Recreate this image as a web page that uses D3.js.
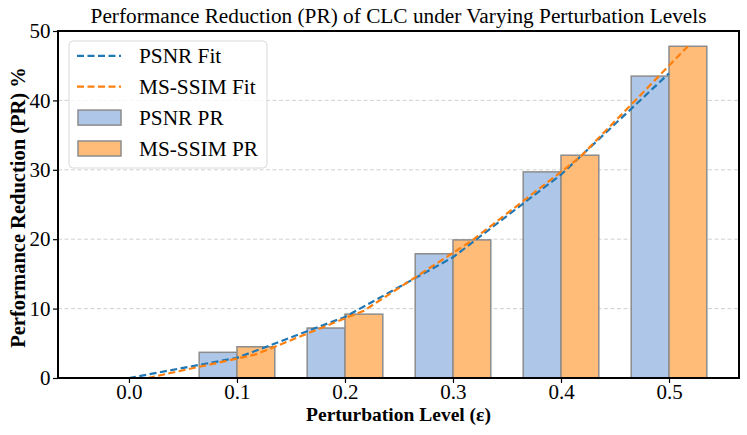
<!DOCTYPE html>
<html><head><meta charset="utf-8">
<script src="https://cdn.jsdelivr.net/npm/d3@7"></script>
<style>body{margin:0;background:#fff}svg text{font-family:"Liberation Serif","DejaVu Serif",serif}</style>
</head><body>
<svg id="c" width="747" height="435"></svg>
<script>
const levels = [0.0, 0.1, 0.2, 0.3, 0.4, 0.5];
const tickLabels = ["0.0","0.1","0.2","0.3","0.4","0.5"];
const psnrPR = [0, 3.7, 7.2, 17.9, 29.7, 43.5];
const ssimPR = [0, 4.5, 9.2, 19.9, 32.1, 47.8];
const psnrFit = [0, 2.9, 8.8, 17.4, 29.3, 43.9];
const ssimFit = [0, 3.4, 9.7, 19.8, 31.8, 47.8];
const yTicks = [0, 10, 20, 30, 40, 50];
const barW = 0.035;

const svg = d3.select("#c");
const L = 58, R = 739, T = 31, B = 378;
const x = d3.scaleLinear().domain([-0.0657, 0.5648]).range([L, R]);
const y = d3.scaleLinear().domain([0, 50]).range([B, T]);

// grid
svg.append("g").selectAll("line").data(yTicks.filter(d => d > 0 && d < 50)).join("line")
  .attr("x1", L).attr("x2", R).attr("y1", d => y(d)).attr("y2", d => y(d))
  .attr("stroke", "#cccccc").attr("stroke-width", 0.9).attr("stroke-dasharray", "4,2.5");

// bars
const bars = svg.append("g");
bars.selectAll("rect.p").data(levels).join("rect").attr("class","p")
  .attr("x", (d) => x(d - barW)).attr("width", x(barW) - x(0))
  .attr("y", (d,i) => y(psnrPR[i])).attr("height", (d,i) => B - y(psnrPR[i]))
  .attr("fill", "#aec7e8").attr("stroke", "#8c8c8c").attr("stroke-width", 1.5);
bars.selectAll("rect.s").data(levels).join("rect").attr("class","s")
  .attr("x", (d) => x(d)).attr("width", x(barW) - x(0))
  .attr("y", (d,i) => y(ssimPR[i])).attr("height", (d,i) => B - y(ssimPR[i]))
  .attr("fill", "#ffbb78").attr("stroke", "#8c8c8c").attr("stroke-width", 1.5);

// fit lines
const line = d3.line().x(d => x(d[0])).y(d => y(d[1]));
svg.append("path").datum(levels.map((d,i) => [d, psnrFit[i]]))
  .attr("d", line).attr("fill","none").attr("stroke","#1f77b4").attr("stroke-width",2.2).attr("stroke-dasharray","7,3.5");
svg.append("path").datum(levels.map((d,i) => [d + barW/2, ssimFit[i]]))
  .attr("d", line).attr("fill","none").attr("stroke","#ff7f0e").attr("stroke-width",2.2).attr("stroke-dasharray","7,3.5");

// frame
svg.append("rect").attr("x", L).attr("y", T).attr("width", R-L).attr("height", B-T)
  .attr("fill","none").attr("stroke","#000").attr("stroke-width",2);

// axes
const xa = svg.append("g").attr("transform", `translate(0,${B})`)
  .call(d3.axisBottom(x).tickValues(levels).tickFormat((d,i) => tickLabels[i]).tickSize(5).tickPadding(1.5));
const ya = svg.append("g").attr("transform", `translate(${L},0)`)
  .call(d3.axisLeft(y).tickValues(yTicks).tickFormat(d3.format("d")).tickSize(5).tickPadding(2.5));
[xa, ya].forEach(g => {
  g.select(".domain").remove();
  g.selectAll("line").attr("stroke","#000").attr("stroke-width",1.2);
  g.selectAll("text").attr("font-size", 21).attr("fill","#000").style("font-family","'Liberation Serif',serif");
});

// titles
svg.append("text").attr("x", (L+R)/2).attr("y", 23).attr("text-anchor","middle")
  .attr("font-size", 21.3).text("Performance Reduction (PR) of CLC under Varying Perturbation Levels");
svg.append("text").attr("x", (L+R)/2).attr("y", 421).attr("text-anchor","middle")
  .attr("font-size", 19.5).attr("font-weight","bold").text("Perturbation Level (ε)");
svg.append("text").attr("transform", `translate(25,${(T+B)/2 + 3}) rotate(-90)`).attr("text-anchor","middle")
  .attr("font-size", 20.5).attr("font-weight","bold").text("Performance Reduction (PR) %");

// legend
const lg = svg.append("g");
lg.append("rect").attr("x", 69).attr("y", 41).attr("width", 198).attr("height", 127).attr("rx", 4)
  .attr("fill","#fff").attr("fill-opacity",0.8).attr("stroke","#d9d9d9").attr("stroke-width",1);
const items = [
  {t:"PSNR Fit", type:"line", c:"#1f77b4"},
  {t:"MS-SSIM Fit", type:"line", c:"#ff7f0e"},
  {t:"PSNR PR", type:"rect", c:"#aec7e8"},
  {t:"MS-SSIM PR", type:"rect", c:"#ffbb78"}
];
items.forEach((it, i) => {
  const cy = 55.8 + i * 30.9;
  if (it.type === "line") {
    lg.append("line").attr("x1", 77).attr("x2", 121).attr("y1", cy).attr("y2", cy)
      .attr("stroke", it.c).attr("stroke-width", 2.2).attr("stroke-dasharray","7,3.5");
  } else {
    lg.append("rect").attr("x", 78).attr("y", cy - 7.5).attr("width", 43).attr("height", 15)
      .attr("fill", it.c).attr("stroke", "#8c8c8c").attr("stroke-width", 1.5);
  }
  lg.append("text").attr("x", 139).attr("y", cy + 7).attr("font-size", 21.3).text(it.t);
});
</script>
</body></html>
